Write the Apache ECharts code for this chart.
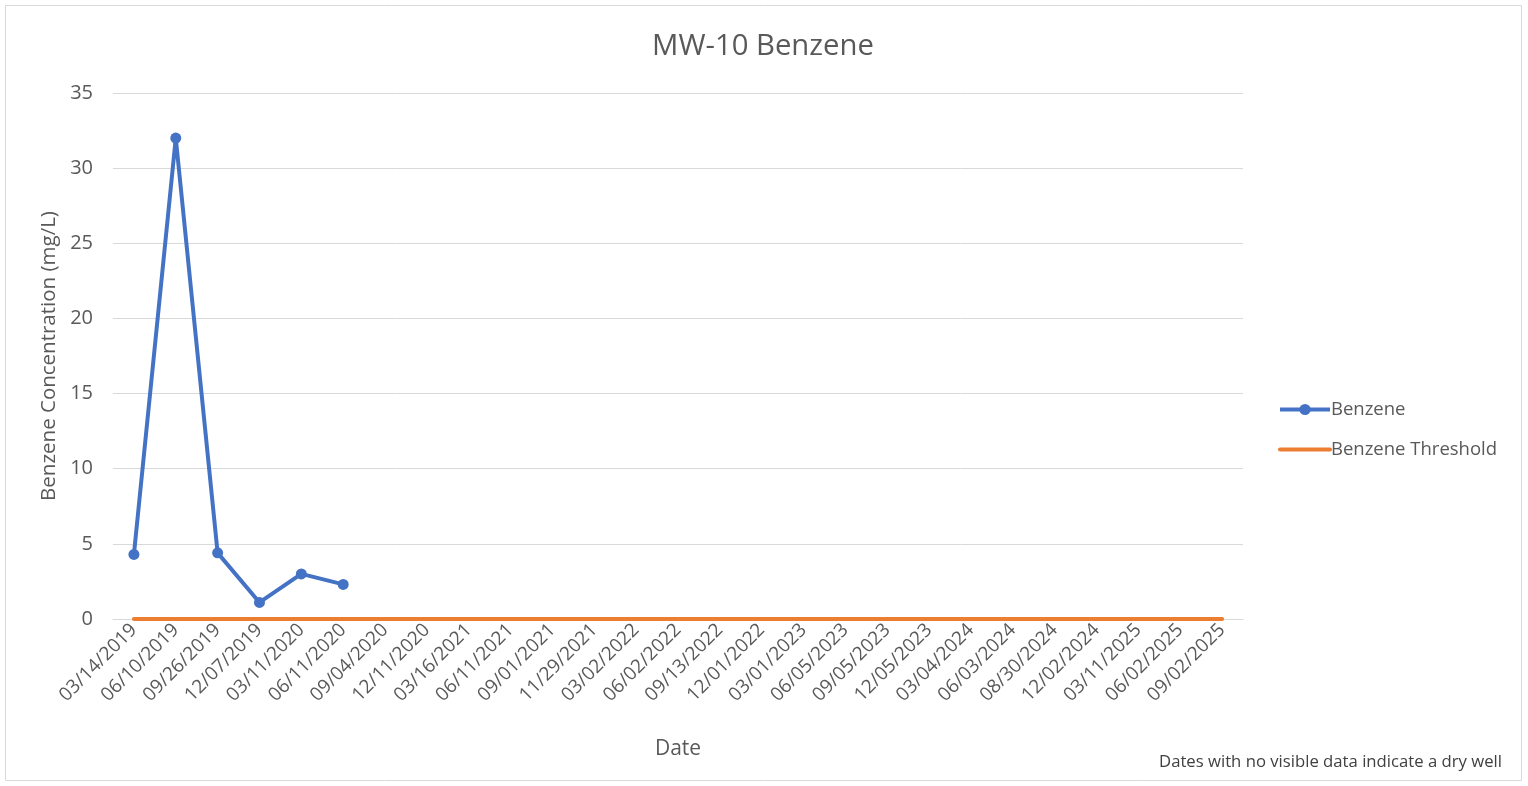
<!DOCTYPE html>
<html><head><meta charset="utf-8">
<script src="https://cdn.jsdelivr.net/npm/echarts@6/dist/echarts.min.js"></script>
<style>html,body{margin:0;padding:0;background:#fff}#c{width:1528px;height:786px}</style>
</head><body><div id="c"></div>
<script>
const categories = ["03/14/2019","06/10/2019","09/26/2019","12/07/2019","03/11/2020","06/11/2020","09/04/2020","12/11/2020","03/16/2021","06/11/2021","09/01/2021","11/29/2021","03/02/2022","06/02/2022","09/13/2022","12/01/2022","03/01/2023","06/05/2023","09/05/2023","12/05/2023","03/04/2024","06/03/2024","08/30/2024","12/02/2024","03/11/2025","06/02/2025","09/02/2025"];
const benzene = [4.3, 32, 4.4, 1.1, 3.0, 2.3, null, null, null, null, null, null, null, null, null, null, null, null, null, null, null, null, null, null, null, null, null];
const threshold = [0.005,0.005,0.005,0.005,0.005,0.005,0.005,0.005,0.005,0.005,0.005,0.005,0.005,0.005,0.005,0.005,0.005,0.005,0.005,0.005,0.005,0.005,0.005,0.005,0.005,0.005,0.005];
const yTicks = {min: 0, max: 35, interval: 5};

const font = 'Open Sans, Noto Sans, sans-serif';
const chart = echarts.init(document.getElementById('c'), null, {renderer: 'canvas'});
chart.setOption({
  animation: false,
  textStyle: {fontFamily: font},
  title: {text: 'MW-10 Benzene', left: 758, top: 27, textAlign: 'center',
    textStyle: {fontSize: 29.3, fontWeight: 'normal', color: '#595959', fontFamily: font}},
  grid: {left: 113, right: 285, top: 93, bottom: 167},
  legend: {orient: 'vertical', left: 1278, top: 400, padding: 0, itemWidth: 50, itemHeight: 14, itemGap: 21,
    textStyle: {fontSize: 18.5, color: '#595959', fontFamily: font, padding: [0, 0, 0, -4]},
    lineStyle: {width: 4},
    data: [{name: 'Benzene'}, {name: 'Benzene Threshold', itemStyle: {opacity: 0}}]},
  xAxis: {type: 'category', data: categories, boundaryGap: true,
    name: 'Date', nameLocation: 'middle', nameGap: 120,
    nameTextStyle: {fontSize: 21, color: '#595959'},
    axisLine: {show: true, lineStyle: {color: '#d9d9d9', width: 1}},
    axisTick: {show: false},
    axisLabel: {rotate: 45, interval: 0, fontSize: 19, color: '#595959', margin: 8}},
  yAxis: {type: 'value', min: yTicks.min, max: yTicks.max, interval: yTicks.interval,
    name: 'Benzene Concentration (mg/L)', nameLocation: 'middle', nameGap: 50,
    nameTextStyle: {fontSize: 20.5, color: '#595959'},
    axisLine: {show: false}, axisTick: {show: false},
    axisLabel: {fontSize: 20, color: '#595959', margin: 20},
    splitLine: {lineStyle: {color: '#d9d9d9', width: 1}}},
  graphic: [
    {type: 'rect', shape: {x: 5.5, y: 5.5, width: 1516, height: 775}, style: {fill: 'none', stroke: '#d9d9d9', lineWidth: 1}, silent: true},
    {type: 'text', right: 26, top: 754, style: {text: 'Dates with no visible data indicate a dry well', fontSize: 16.7, fill: '#404040', fontFamily: font}}
  ],
  series: [
    {name: 'Benzene', type: 'line', data: benzene, symbol: 'circle', symbolSize: 11,
      connectNulls: false,
      lineStyle: {color: '#4472c4', width: 4}, itemStyle: {color: '#4472c4'}, z: 3},
    {name: 'Benzene Threshold', type: 'line', data: threshold, symbol: 'none', showSymbol: false,
      lineStyle: {color: '#ed7d31', width: 4, cap: 'round'}, itemStyle: {color: '#ed7d31'}, z: 2}
  ]
});
</script></body></html>
